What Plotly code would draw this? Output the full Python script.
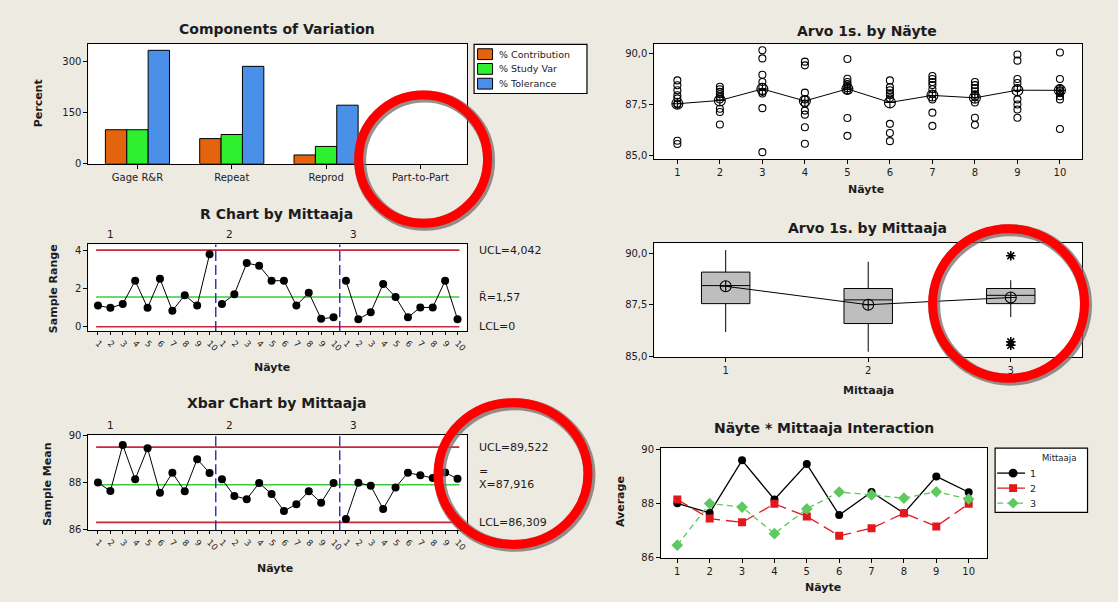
import numpy as np
import plotly.graph_objects as go

W, H = 1118, 602


def px(x):
    return x / W


def py(y):
    return 1 - y / H


FONT = "DejaVu Sans"
INK = "#1c1c1c"
BG = "#EDEAE2"

# ---------------- data ----------------
# Components of variation (percent)
components = ["Gage R&R", "Repeat", "Reprod", "Part-to-Part"]
pct_contribution = [100, 74, 26, 0]
pct_study_var = [100, 86, 51, 0]
pct_tolerance = [333, 286, 172, 0]
component_series = ["% Contribution", "% Study Var", "% Tolerance"]

parts = list(range(1, 11))
operators = [1, 2, 3]

# Subgroup ranges (3 trials) per part, one list per operator
range_op1 = [1.12, 1.00, 1.20, 2.43, 1.00, 2.53, 0.85, 1.67, 1.12, 3.82]
range_op2 = [1.20, 1.72, 3.36, 3.22, 2.43, 2.43, 1.12, 1.80, 0.42, 0.50]
range_op3 = [2.43, 0.40, 0.77, 2.25, 1.57, 0.50, 1.02, 1.02, 2.43, 0.40]

# Subgroup means per part, one list per operator
xbar_op1 = [88.01, 87.65, 89.61, 88.15, 89.47, 87.57, 88.43, 87.64, 89.01, 88.42]
xbar_op2 = [88.15, 87.44, 87.30, 87.99, 87.52, 86.80, 87.08, 87.64, 87.15, 87.99]
xbar_op3 = [86.45, 88.00, 87.87, 86.88, 87.80, 88.43, 88.32, 88.20, 88.44, 88.17]

# Control limits
r_ucl, r_bar, r_lcl = 4.042, 1.57, 0.0
x_ucl, x_bar, x_lcl = 89.522, 87.916, 86.309

# Individual readings (Arvo 1s.) for each part
arvo_p1 = [88.68, 88.44, 88.20, 87.95, 87.80, 87.55, 87.50, 85.72, 85.56]
arvo_p2 = [88.37, 88.25, 88.12, 88.00, 87.88, 87.75, 87.29, 87.13, 86.52]
arvo_p3 = [90.16, 89.76, 88.96, 88.60, 88.37, 88.12, 88.04, 87.32, 85.16]
arvo_p4 = [89.60, 89.42, 88.08, 87.75, 87.55, 87.20, 87.00, 86.38, 85.57]
arvo_p5 = [89.73, 88.76, 88.60, 88.50, 88.40, 88.30, 88.20, 86.84, 85.96]
arvo_p6 = [88.68, 88.35, 88.20, 88.05, 87.95, 87.80, 86.55, 86.10, 85.70]
arvo_p7 = [88.90, 88.75, 88.60, 88.45, 88.25, 88.00, 87.75, 87.10, 86.45]
arvo_p8 = [88.60, 88.45, 88.30, 88.15, 88.00, 87.85, 87.60, 86.85, 86.50]
arvo_p9 = [89.95, 89.65, 88.75, 88.55, 88.30, 87.75, 87.50, 87.25, 86.85]
arvo_p10 = [90.05, 88.75, 88.30, 88.20, 88.15, 88.05, 87.90, 87.75, 86.30]
arvo_by_part = [arvo_p1, arvo_p2, arvo_p3, arvo_p4, arvo_p5,
                arvo_p6, arvo_p7, arvo_p8, arvo_p9, arvo_p10]

# Box plot summaries per operator
box_low = [86.19, 85.24, 86.91]
box_q1 = [87.56, 86.60, 87.56]
box_median = [88.43, 87.74, 87.96]
box_q3 = [89.08, 88.29, 88.29]
box_high = [90.14, 89.58, 88.69]
outlier_op = [3, 3, 3]
outlier_val = [89.87, 85.72, 85.55]

# ---------------- styling ----------------
bar_colors = ["#E2640F", "#2EF02E", "#4A90E8"]
op_colors = ["#000000", "#E3171D", "#5FC85F"]
op_symbols = ["circle", "square", "diamond"]
op_dashes = ["solid", "12px,6px", "6px,4px"]
limit_red = "#C8283A"
center_green = "#3CCB3C"
stage_blue = "#2A2AB4"

xbar_all = [xbar_op1, xbar_op2, xbar_op3]
range_all = [range_op1, range_op2, range_op3]
n_sub = len(parts) * len(operators)

fig = go.Figure()

# ---- Components of Variation
for name, vals, col in zip(component_series,
                           [pct_contribution, pct_study_var, pct_tolerance],
                           bar_colors):
    outline = [1 if v > 0 else 0 for v in vals]
    fig.add_trace(go.Bar(x=components, y=vals, name=name,
                         marker=dict(color=col, line=dict(color="black", width=outline)),
                         xaxis="x", yaxis="y", showlegend=False))

# ---- Arvo by Näyte
sx = [p for p, vals in zip(parts, arvo_by_part) for _ in vals]
sy = [v for vals in arvo_by_part for v in vals]
fig.add_trace(go.Scatter(x=sx, y=sy, mode="markers",
                         marker=dict(symbol="circle-open", size=7, color="black",
                                     line=dict(width=1.1)),
                         xaxis="x2", yaxis="y2", showlegend=False))
part_means = np.mean(np.array(xbar_all), axis=0)
fig.add_trace(go.Scatter(x=parts, y=part_means, mode="lines+markers",
                         line=dict(color="black", width=1),
                         marker=dict(symbol="circle-cross-open", size=11, color="black",
                                     line=dict(width=1.1)),
                         xaxis="x2", yaxis="y2", showlegend=False))


def staged(values_per_op):
    xs, ys = [], []
    for k, vals in enumerate(values_per_op):
        xs += [k * len(parts) + i for i in parts] + [None]
        ys += list(vals) + [None]
    return xs, ys


def control_chart(values_per_op, ucl, center, lcl, xa, ya):
    span = [1 - 0.15, n_sub + 0.15]
    for level, col in [(ucl, limit_red), (lcl, limit_red), (center, center_green)]:
        fig.add_trace(go.Scatter(x=span, y=[level, level], mode="lines",
                                 line=dict(color=col, width=1.6),
                                 xaxis=xa, yaxis=ya, showlegend=False))
    xs, ys = staged(values_per_op)
    fig.add_trace(go.Scatter(x=xs, y=ys, mode="lines+markers",
                             line=dict(color="black", width=1),
                             marker=dict(color="black", size=8),
                             xaxis=xa, yaxis=ya, showlegend=False))


# ---- R chart / Xbar chart
control_chart(range_all, r_ucl, r_bar, r_lcl, "x3", "y3")
control_chart(xbar_all, x_ucl, x_bar, x_lcl, "x5", "y5")

# ---- Arvo by Mittaaja (box plot)
fig.add_trace(go.Box(x=operators, q1=box_q1, median=box_median, q3=box_q3,
                     lowerfence=box_low, upperfence=box_high,
                     width=0.34, whiskerwidth=0, boxpoints=False,
                     fillcolor="#BEBEBE", line=dict(color="black", width=1),
                     xaxis="x4", yaxis="y4", showlegend=False))
op_means = [float(np.mean(v)) for v in xbar_all]
fig.add_trace(go.Scatter(x=operators, y=op_means, mode="lines+markers",
                         line=dict(color="black", width=1),
                         marker=dict(symbol="circle-cross-open", size=11, color="black",
                                     line=dict(width=1.1)),
                         xaxis="x4", yaxis="y4", showlegend=False))
fig.add_trace(go.Scatter(x=outlier_op, y=outlier_val, mode="markers",
                         marker=dict(symbol="asterisk-open", size=8, color="black",
                                     line=dict(width=1.6)),
                         xaxis="x4", yaxis="y4", showlegend=False))

# ---- Interaction plot
for k, op in enumerate(operators):
    fig.add_trace(go.Scatter(x=parts, y=xbar_all[k], mode="lines+markers", name=str(op),
                             line=dict(color=op_colors[k], width=1.3, dash=op_dashes[k]),
                             marker=dict(symbol=op_symbols[k], color=op_colors[k],
                                         size=9 if k == 2 else 8),
                             xaxis="x6", yaxis="y6", showlegend=False))


# ---------------- axes ----------------
def frame(**kw):
    base = dict(showline=True, linecolor="black", linewidth=1, mirror=True,
                ticks="outside", ticklen=4, tickcolor="black", tickwidth=1,
                showgrid=False, zeroline=False, fixedrange=True,
                tickfont=dict(family=FONT, size=10, color=INK))
    base.update(kw)
    return base


def dom_x(a, b):
    return [px(a), px(b)]


def dom_y(top, bottom):
    return [py(bottom), py(top)]


stage_ticks = list(range(1, n_sub + 1))
stage_text = [str(p) for _ in operators for p in parts]

fig.update_layout(
    xaxis=frame(domain=dom_x(88.5, 467), anchor="y", range=[-0.52, 3.49]),
    yaxis=frame(domain=dom_y(39.5, 161.5), anchor="x", range=[0, 352],
                tickvals=[0, 150, 300]),
    xaxis2=frame(domain=dom_x(655, 1083), anchor="y2", range=[0.46, 10.52],
                 tickvals=parts),
    yaxis2=frame(domain=dom_y(40, 156.7), anchor="x2", range=[84.82, 90.45],
                 tickvals=[85, 87.5, 90], ticktext=["85,0", "87,5", "90,0"]),
    xaxis3=frame(domain=dom_x(88.5, 467), anchor="y3", range=[0.23, 30.73],
                 tickvals=stage_ticks, ticktext=stage_text, tickangle=45,
                 tickfont=dict(family=FONT, size=8.5, color=INK), ticklen=3),
    yaxis3=frame(domain=dom_y(243.5, 331.5), anchor="x3", range=[-0.22, 4.34],
                 tickvals=[0, 2, 4]),
    xaxis4=frame(domain=dom_x(655, 1083), anchor="y4", range=[0.5, 3.5],
                 tickvals=operators),
    yaxis4=frame(domain=dom_y(242.3, 358.3), anchor="x4", range=[84.97, 90.47],
                 tickvals=[85, 87.5, 90], ticktext=["85,0", "87,5", "90,0"]),
    xaxis5=frame(domain=dom_x(88.5, 467), anchor="y5", range=[0.23, 30.73],
                 tickvals=stage_ticks, ticktext=stage_text, tickangle=45,
                 tickfont=dict(family=FONT, size=8.5, color=INK), ticklen=3),
    yaxis5=frame(domain=dom_y(437.5, 534), anchor="x5", range=[85.98, 90.03],
                 tickvals=[86, 88, 90]),
    xaxis6=frame(domain=dom_x(661.7, 987.7), anchor="y6", range=[0.5, 10.56],
                 tickvals=parts),
    yaxis6=frame(domain=dom_y(450.7, 562.7), anchor="x6", range=[85.96, 90.06],
                 tickvals=[86, 88, 90]),
)

# ---------------- text ----------------
ann = []


def text(s, x, y, size=11, bold=False, angle=0, xanchor="center", **kw):
    d = dict(text=f"<b>{s}</b>" if bold else s, x=px(x), y=py(y),
             xref="paper", yref="paper", showarrow=False, textangle=angle,
             xanchor=xanchor, yanchor="middle",
             font=dict(family=FONT, size=size, color=INK))
    d.update(kw)
    ann.append(d)


titles = [("Components of Variation", 277, 24),
          ("R Chart by Mittaaja", 277, 213),
          ("Xbar Chart by Mittaaja", 277, 405),
          ("Arvo 1s. by Näyte", 868, 26),
          ("Arvo 1s. by Mittaaja", 868, 227),
          ("Näyte * Mittaaja Interaction", 825, 430)]
for s, x, y in titles:
    text(s, x, y, size=14, bold=True)

for s, x, y in [("Percent", 38, 100), ("Sample Range", 53, 288),
                ("Sample Mean", 48, 487), ("Average", 621, 505)]:
    text(s, x, y, size=11, bold=True, angle=-90)

for s, x, y in [("Näyte", 272, 369), ("Näyte", 275, 573), ("Näyte", 867, 188),
                ("Mittaaja", 869, 392), ("Näyte", 824, 592)]:
    text(s, x, y, size=11, bold=True)

# stage labels above the control charts
for k, op in enumerate(operators):
    for y in (233, 427):
        text(str(op), [111, 230, 354][k], y, size=10.5)


def limit_label(s, value, yref, yshift=0):
    ann.append(dict(text=s, x=px(477), y=value, xref="paper", yref=yref,
                    showarrow=False, xanchor="left", yanchor="middle", yshift=yshift,
                    font=dict(family=FONT, size=11, color=INK)))


def fmt(v, nd):
    return f"{v:.{nd}f}".replace(".", ",")


limit_label(f"UCL={fmt(r_ucl, 3)}", r_ucl, "y3")
limit_label(f"R\u0304={fmt(r_bar, 2)}", r_bar, "y3")
limit_label(f"LCL={r_lcl:g}", r_lcl, "y3")
limit_label(f"UCL={fmt(x_ucl, 3)}", x_ucl, "y5")
limit_label(f"X={fmt(x_bar, 3)}", x_bar, "y5")
limit_label("=", x_bar, "y5", yshift=13)
limit_label(f"LCL={fmt(x_lcl, 3)}", x_lcl, "y5")

# ---------------- legends ----------------
shapes = []
shapes.append(dict(type="rect", xref="paper", yref="paper",
                   x0=px(474.5), x1=px(587.5), y0=py(90), y1=py(40),
                   fillcolor="white", line=dict(color="black", width=1.2), layer="below"))
for k, (name, col) in enumerate(zip(component_series, bar_colors)):
    yc = 50 + 15 * k
    shapes.append(dict(type="rect", xref="paper", yref="paper",
                       x0=px(478), x1=px(493), y0=py(yc + 5.5), y1=py(yc - 5.5),
                       fillcolor=col, line=dict(color="black", width=1)))
    text(name, 497, yc, size=9.5, xanchor="left")

shapes.append(dict(type="rect", xref="paper", yref="paper",
                   x0=px(996), x1=px(1088.5), y0=py(516), y1=py(450.7),
                   fillcolor="white", line=dict(color="black", width=1.2), layer="below"))
text("Mittaaja", 1060, 461, size=8.5)
for k, op in enumerate(operators):
    yc = 476 + 15.3 * k
    col = op_colors[k]
    shapes.append(dict(type="line", xref="paper", yref="paper",
                       x0=px(998), x1=px(1026), y0=py(yc), y1=py(yc),
                       line=dict(color=col, width=1.3, dash=op_dashes[k])))
    cx = 1014
    if op_symbols[k] == "circle":
        shapes.append(dict(type="circle", xref="paper", yref="paper",
                           x0=px(cx - 4.5), x1=px(cx + 4.5), y0=py(yc + 4.5), y1=py(yc - 4.5),
                           fillcolor=col, line=dict(color=col, width=0)))
    elif op_symbols[k] == "square":
        shapes.append(dict(type="rect", xref="paper", yref="paper",
                           x0=px(cx - 4), x1=px(cx + 4), y0=py(yc + 4), y1=py(yc - 4),
                           fillcolor=col, line=dict(color=col, width=0)))
    else:
        pts = [(cx, yc - 5.5), (cx + 5.5, yc), (cx, yc + 5.5), (cx - 5.5, yc)]
        path = "M " + " L ".join(f"{px(a):.5f},{py(b):.5f}" for a, b in pts) + " Z"
        shapes.append(dict(type="path", xref="paper", yref="paper", path=path,
                           fillcolor=col, line=dict(color=col, width=0)))
    text(str(op), 1029, yc, size=9.5, xanchor="left")

# stage separators on the control charts
for xa, ya in (("x3", "y3"), ("x5", "y5")):
    for k in range(1, len(operators)):
        xpos = k * len(parts) + 0.5
        shapes.append(dict(type="line", xref=xa, yref=f"{ya} domain",
                           x0=xpos, x1=xpos, y0=0, y1=1,
                           line=dict(color=stage_blue, width=1.4, dash="10px,4px")))

# highlight rings
rings = [(359, 488, 91.5, 222),
         (438.5, 588.5, 404.5, 548.5),
         (933.5, 1085.5, 227.5, 379.5)]
for x0, x1, y0, y1 in rings:
    shapes.append(dict(type="circle", xref="paper", yref="paper",
                       x0=px(x0 + 1.5), x1=px(x1 + 1.5), y0=py(y1 + 1.5), y1=py(y0 + 1.5),
                       line=dict(color="rgba(120,105,105,0.75)", width=12)))
    shapes.append(dict(type="circle", xref="paper", yref="paper",
                       x0=px(x0), x1=px(x1), y0=py(y1), y1=py(y0),
                       line=dict(color="#FF0000", width=9)))

fig.update_layout(
    width=W, height=H, autosize=False,
    margin=dict(l=0, r=0, t=0, b=0, pad=0),
    paper_bgcolor=BG, plot_bgcolor="white",
    barmode="group", bargap=0.32, bargroupgap=0,
    showlegend=False, hovermode=False,
    annotations=ann, shapes=shapes,
    font=dict(family=FONT, color=INK),
)

fig.write_html("out.html", config={"displayModeBar": False, "staticPlot": True})
